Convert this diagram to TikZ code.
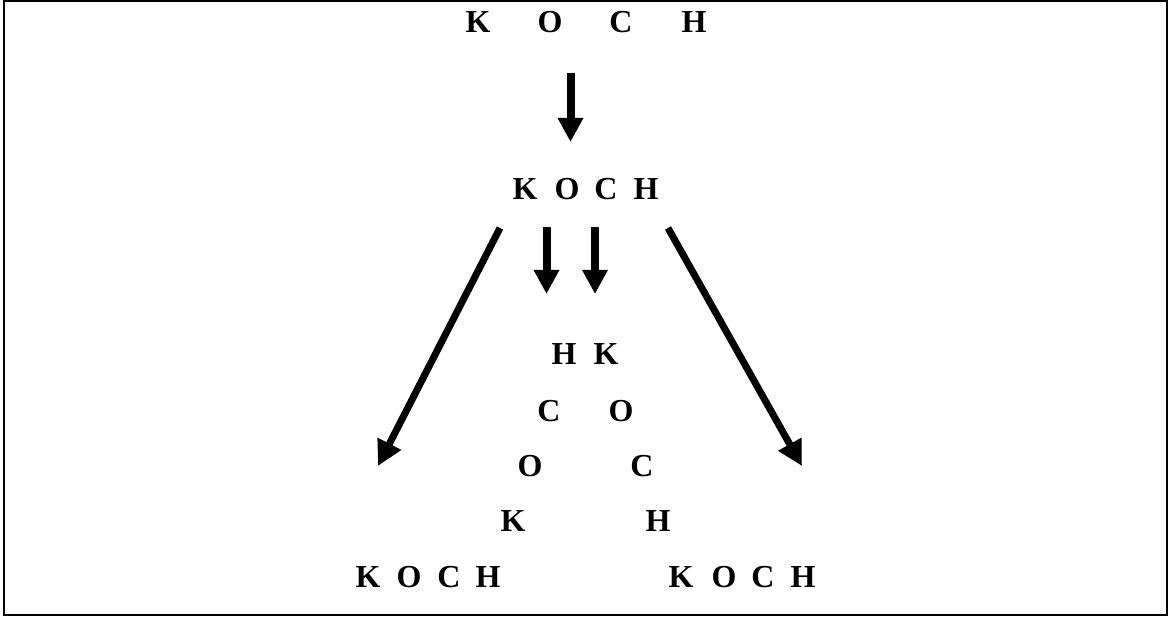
\documentclass[tikz,border=0pt]{standalone}
\usepackage{fontspec}
\setmainfont{Liberation Serif}
\usetikzlibrary{arrows.meta}
\begin{document}
\begin{tikzpicture}[x=1pt,y=-1pt,
  letter/.style={anchor=base,inner sep=0pt,font=\fontsize{32}{38}\selectfont\bfseries},
  vstem/.style={line width=8pt,-{Triangle[length=24pt,width=24pt]}},
  dstem/.style={line width=7pt,-{Triangle[length=25pt,width=25pt]}}]
\useasboundingbox (0,0) rectangle (1168,617);
\draw[line width=2pt] (4,1) rectangle (1167,614.5);

% top row, widely spaced
\node[letter] (k0) at (478,33) {K};
\node[letter] (o0) at (550,33) {O};
\node[letter] (c0) at (621,33) {C};
\node[letter] (h0) at (694,33) {H};

% second row
\node[letter] (k1) at (525,200) {K};
\node[letter] (o1) at (567,200) {O};
\node[letter] (c1) at (606,200) {C};
\node[letter] (h1) at (646,200) {H};

% spreading letters
\node[letter] (h2) at (564,365) {H};
\node[letter] (k2) at (606,365) {K};
\node[letter] (c3) at (549,422) {C};
\node[letter] (o3) at (621,422) {O};
\node[letter] (o4) at (530,477) {O};
\node[letter] (c4) at (642,477) {C};
\node[letter] (k5) at (513,532) {K};
\node[letter] (h5) at (658,532) {H};

% bottom rows
\node[letter] (kl) at (368,587) {K};
\node[letter] (ol) at (409,587) {O};
\node[letter] (cl) at (449,587) {C};
\node[letter] (hl) at (488,587) {H};
\node[letter] (kr) at (681,587) {K};
\node[letter] (or) at (724,587) {O};
\node[letter] (cr) at (763,587) {C};
\node[letter] (hr) at (803,587) {H};

% arrow ends
\coordinate (a0s) at (570.5,73);
\coordinate (a0e) at (570.5,142);
\coordinate (a1s) at (546.5,227);
\coordinate (a1e) at (546.5,294);
\coordinate (a2s) at (595,227);
\coordinate (a2e) at (595,294);
\coordinate (dls) at (500,228);
\coordinate (dle) at (378,466);
\coordinate (drs) at (668,228);
\coordinate (dre) at (802,466);

\draw[vstem] (a0s) -- (a0e);
\draw[vstem] (a1s) -- (a1e);
\draw[vstem] (a2s) -- (a2e);
\draw[dstem] (dls) -- (dle);
\draw[dstem] (drs) -- (dre);
\end{tikzpicture}
\end{document}
